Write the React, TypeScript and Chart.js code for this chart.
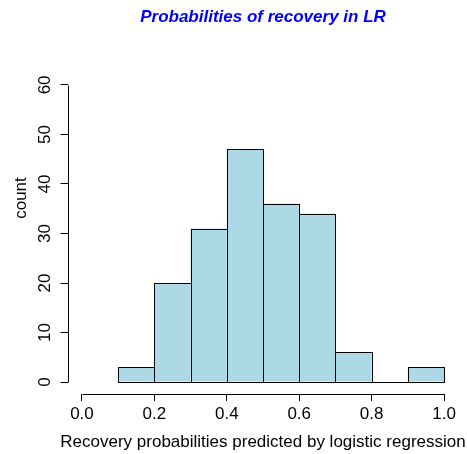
import React, { useEffect, useRef } from "react";
import { Chart, registerables } from "chart.js";

Chart.register(...registerables);

// Histogram bins (left edges) and their counts
const binStarts = [0.1, 0.2, 0.3, 0.4, 0.5, 0.6, 0.7, 0.8, 0.9];
const binWidth = 0.1;
const counts = [3, 20, 31, 47, 36, 34, 6, 0, 3];

// Axis ticks
const xTickValues = [0, 0.2, 0.4, 0.6, 0.8, 1.0];
const yTickValues = [0, 10, 20, 30, 40, 50, 60];

// Texts
const titleText = "Probabilities of recovery in LR";
const xLabel = "Recovery probabilities predicted by logistic regression";
const yLabel = "count";

const FONT = "'Liberation Sans', Arial, Helvetica, sans-serif";
const FONT_SIZE = 17;

// Strokes every bar outline once, R-style (zero-count bins become a flat line)
const barOutlines = {
  id: "barOutlines",
  afterDatasetsDraw(chart: any) {
    const { ctx } = chart;
    const meta = chart.getDatasetMeta(0);
    ctx.save();
    ctx.strokeStyle = "#000";
    ctx.lineWidth = 1;
    meta.data.forEach((bar: any) => {
      const { x, y, base, width } = bar.getProps(["x", "y", "base", "width"], true);
      const l = Math.round(x - width / 2) + 0.5;
      const r = Math.round(x + width / 2) + 0.5;
      const t = Math.round(y) + 0.5;
      const b = Math.round(base) + 0.5;
      ctx.strokeRect(l, t, r - l, b - t);
    });
    ctx.restore();
  },
};

// Axis lines that only span the tick range, and the three text labels
const rAxes = {
  id: "rAxes",
  afterDraw(chart: any) {
    const { ctx, chartArea, scales } = chart;
    const xs = scales.x;
    const ys = scales.y;
    ctx.save();
    ctx.strokeStyle = "#000";
    ctx.lineWidth = 1;

    const yb = Math.round(chartArea.bottom) + 0.5;
    ctx.beginPath();
    ctx.moveTo(Math.round(xs.getPixelForValue(xTickValues[0])) + 0.5, yb);
    ctx.lineTo(Math.round(xs.getPixelForValue(xTickValues[xTickValues.length - 1])) + 0.5, yb);
    ctx.stroke();

    const xl = Math.round(chartArea.left) + 0.5;
    ctx.beginPath();
    ctx.moveTo(xl, Math.round(ys.getPixelForValue(yTickValues[0])) + 0.5);
    ctx.lineTo(xl, Math.round(ys.getPixelForValue(yTickValues[yTickValues.length - 1])) + 0.5);
    ctx.stroke();

    const cx = (chartArea.left + chartArea.right) / 2;

    // main title
    ctx.fillStyle = "#0000ff";
    ctx.font = `italic bold ${FONT_SIZE}px ${FONT}`;
    ctx.textAlign = "center";
    ctx.textBaseline = "alphabetic";
    ctx.fillText(titleText, cx, 22);

    // x axis title
    ctx.fillStyle = "#000";
    ctx.font = `${FONT_SIZE}px ${FONT}`;
    ctx.fillText(xLabel, cx, 447);

    // y axis title
    ctx.translate(26, 198);
    ctx.rotate(-Math.PI / 2);
    ctx.fillText(yLabel, 0, 0);
    ctx.restore();
  },
};

export default function App() {
  const canvasRef = useRef<HTMLCanvasElement | null>(null);

  useEffect(() => {
    document.body.style.margin = "0";
    const canvas = canvasRef.current;
    if (!canvas) return;

    const chart = new Chart(canvas, {
      type: "bar",
      data: {
        datasets: [
          {
            data: binStarts.map((s, i) => ({ x: s + binWidth / 2, y: counts[i] })),
            backgroundColor: "#add8e6",
            borderWidth: 0,
            barPercentage: 1,
            categoryPercentage: 1,
            inflateAmount: 0,
          },
        ],
      },
      options: {
        animation: false,
        responsive: false,
        devicePixelRatio: 1,
        layout: { padding: { top: 73, right: 8.5, left: 0, bottom: 0 } },
        plugins: {
          legend: { display: false },
          tooltip: { enabled: false },
          title: { display: false },
        },
        scales: {
          x: {
            type: "linear",
            min: -0.04,
            max: 1.04,
            offset: false,
            afterBuildTicks: (scale: any) => {
              scale.ticks = xTickValues.map((v) => ({ value: v }));
            },
            afterFit: (scale: any) => {
              scale.height = 60;
            },
            ticks: {
              autoSkip: false,
              maxRotation: 0,
              padding: 3,
              color: "#000",
              font: { family: FONT, size: FONT_SIZE },
              callback: (v: any) => Number(v).toFixed(1),
            },
            grid: {
              offset: false,
              drawOnChartArea: false,
              drawTicks: true,
              tickLength: 7,
              color: "#000",
            },
            border: { display: false },
          },
          y: {
            type: "linear",
            min: -2.4,
            max: 62.4,
            afterBuildTicks: (scale: any) => {
              scale.ticks = yTickValues.map((v) => ({ value: v }));
            },
            afterFit: (scale: any) => {
              scale.width = 67.5;
            },
            ticks: {
              autoSkip: false,
              minRotation: 90,
              maxRotation: 90,
              crossAlign: "center",
              padding: 6,
              color: "#000",
              font: { family: FONT, size: FONT_SIZE },
              callback: (v: any) => String(v),
            },
            grid: {
              drawOnChartArea: false,
              drawTicks: true,
              tickLength: 7,
              color: "#000",
            },
            border: { display: false },
          },
        },
      },
      plugins: [barOutlines, rAxes],
    });

    return () => chart.destroy();
  }, []);

  return (
    <canvas
      ref={canvasRef}
      width={467}
      height={454}
      style={{ position: "absolute", left: 0, top: 0, width: 467, height: 454 }}
    />
  );
}
